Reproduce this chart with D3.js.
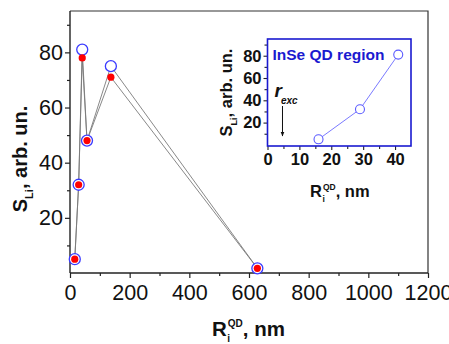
<!DOCTYPE html>
<html>
<head>
<meta charset="utf-8">
<script src="https://cdn.jsdelivr.net/npm/d3@7/dist/d3.min.js"></script>
<style>
  html, body { margin: 0; padding: 0; background: #fff; }
  svg { display: block; font-family: "Liberation Sans", Arial, sans-serif; }
</style>
</head>
<body>
<svg id="chart" width="449" height="344"></svg>
<script>
// QD radius (nm) and Li-related intensity for both series
const radius = [16, 29, 41, 57, 137, 628];
const sOpen = [5, 32, 81, 48, 75, 1.7];
const sFilled = [5, 32, 78, 48, 71, 1.7];

// Small-QD region shown in the inset
const insetRadius = [16, 29, 41];
const insetS = [5, 32, 81];
const excitonRadius = 4.7;

const xTicks = [0, 200, 400, 600, 800, 1000, 1200];
const yTicks = [20, 40, 60, 80];
const insetXTicks = [0, 10, 20, 30, 40];
const insetYTicks = [20, 40, 60, 80];

const svg = d3.select("#chart");
const fmt = d3.format("d");
const narrow = "'Liberation Sans Narrow', 'Arial Narrow', 'Liberation Sans', sans-serif";

// ---------- main panel ----------
const M = { left: 70, right: 428, top: 11, bottom: 273 };
const x = d3.scaleLinear().domain([0, 1200]).range([M.left, M.right]);
const y = d3.scaleLinear().domain([0, 95]).range([M.bottom, M.top]);

// frame (top and right)
svg.append("path")
  .attr("d", `M${M.left},${M.top}H${M.right}V${M.bottom}`)
  .attr("fill", "none").attr("stroke", "#333").attr("stroke-width", 1.2);

// minor ticks
const minorX = d3.range(100, 1200, 200);
const minorY = d3.range(10, 95, 20);
svg.append("g").attr("transform", `translate(0,${M.bottom})`)
  .call(d3.axisBottom(x).tickValues(minorX).tickSize(3).tickFormat(""))
  .call(g => g.select(".domain").remove())
  .selectAll("line").attr("stroke", "#222").attr("stroke-width", 1.2);
svg.append("g").attr("transform", `translate(${M.left},0)`)
  .call(d3.axisLeft(y).tickValues(minorY).tickSize(3).tickFormat(""))
  .call(g => g.select(".domain").remove())
  .selectAll("line").attr("stroke", "#222").attr("stroke-width", 1.2);

// main axes
const xAxis = svg.append("g").attr("transform", `translate(0,${M.bottom})`)
  .call(d3.axisBottom(x).tickValues(xTicks).tickFormat(fmt).tickSize(5).tickSizeOuter(0).tickPadding(7));
const yAxis = svg.append("g").attr("transform", `translate(${M.left},0)`)
  .call(d3.axisLeft(y).tickValues(yTicks).tickFormat(fmt).tickSize(5).tickSizeOuter(0).tickPadding(2));
[xAxis, yAxis].forEach(g => {
  g.select(".domain").attr("stroke", "#222").attr("stroke-width", 1.4);
  g.selectAll(".tick line").attr("stroke", "#222").attr("stroke-width", 1.2);
  g.selectAll(".tick text").attr("font-size", 21.5).attr("fill", "#111")
    .attr("font-family", narrow);
});
xAxis.select(".domain").attr("d", `M${M.left},0H${M.right}`);
yAxis.select(".domain").attr("d", `M0,${M.bottom}V${M.top}`);

// connecting lines
const line = d3.line().x((d, i) => x(radius[i])).y(d => y(d));
[sOpen, sFilled].forEach(s => {
  svg.append("path").datum(s).attr("d", line)
    .attr("fill", "none").attr("stroke", "#7a7a7a").attr("stroke-width", 0.9);
});

// markers
svg.append("g").selectAll("circle").data(sOpen).join("circle")
  .attr("cx", (d, i) => x(radius[i])).attr("cy", d => y(d)).attr("r", 5.5)
  .attr("fill", "#fff").attr("stroke", "#3a3aff").attr("stroke-width", 1.3);
svg.append("g").selectAll("circle").data(sFilled).join("circle")
  .attr("cx", (d, i) => x(radius[i])).attr("cy", d => y(d)).attr("r", 3.6)
  .attr("fill", "#ff0000");

// axis titles
function radiusLabel(g, big, small, fill) {
  const t1 = g.append("text").attr("font-size", big).attr("font-weight", "bold").attr("fill", fill).text("R");
  const w = t1.node().getComputedTextLength();
  g.append("text").attr("x", w + 0.5).attr("y", big * 0.28).attr("font-size", small)
    .attr("font-weight", "bold").attr("fill", fill).text("i");
  const t3 = g.append("text").attr("x", w + 1).attr("y", -big * 0.42).attr("font-size", small)
    .attr("font-weight", "bold").attr("fill", fill).text("QD");
  const w3 = t3.node().getComputedTextLength();
  g.append("text").attr("x", w + 1 + w3).attr("font-size", big).attr("font-weight", "bold")
    .attr("fill", fill).text(", nm");
}
radiusLabel(svg.append("g").attr("transform", "translate(212,336)"), 20.5, 10, "#111");

function sLabel(g, big, small, fill) {
  const t = g.append("text").attr("text-anchor", "middle").attr("font-weight", "bold")
    .attr("fill", fill).attr("font-size", big);
  t.append("tspan").text("S");
  t.append("tspan").attr("font-size", small).attr("dy", big * 0.28).text("Li");
  t.append("tspan").attr("dy", -big * 0.28).text(", arb. un.");
}
sLabel(svg.append("g").attr("transform", "translate(27,159) rotate(-90)"), 20, 11, "#111");

// ---------- inset ----------
const I = { left: 267.5, right: 411, top: 39, bottom: 146 };
const ix = d3.scaleLinear().domain([0, 45]).range([I.left, I.right]);
const iy = d3.scaleLinear().domain([-1, 95]).range([I.bottom, I.top]);
const blue = "#1a1ad0";

svg.append("g").attr("transform", `translate(0,${I.bottom})`)
  .call(d3.axisBottom(ix).tickValues(d3.range(5, 45, 10)).tickSize(3).tickFormat(""))
  .call(g => g.select(".domain").remove())
  .selectAll("line").attr("stroke", "#222").attr("stroke-width", 1.1);
svg.append("g").attr("transform", `translate(${I.left},0)`)
  .call(d3.axisLeft(iy).tickValues(d3.range(10, 95, 20)).tickSize(3).tickFormat(""))
  .call(g => g.select(".domain").remove())
  .selectAll("line").attr("stroke", "#222").attr("stroke-width", 1.1);

const ixAxis = svg.append("g").attr("transform", `translate(0,${I.bottom})`)
  .call(d3.axisBottom(ix).tickValues(insetXTicks).tickFormat(fmt).tickSize(4).tickSizeOuter(0).tickPadding(3));
const iyAxis = svg.append("g").attr("transform", `translate(${I.left},0)`)
  .call(d3.axisLeft(iy).tickValues(insetYTicks).tickFormat(fmt).tickSize(4).tickSizeOuter(0).tickPadding(2));
[ixAxis, iyAxis].forEach(g => {
  g.select(".domain").remove();
  g.selectAll(".tick line").attr("stroke", "#222").attr("stroke-width", 1.1);
  g.selectAll(".tick text").attr("font-size", 16.5).attr("font-weight", "bold").attr("fill", "#111")
    .attr("font-family", "Liberation Sans, Arial, sans-serif");
});

svg.append("rect")
  .attr("x", I.left).attr("y", I.top)
  .attr("width", I.right - I.left).attr("height", I.bottom - I.top)
  .attr("fill", "none").attr("stroke", blue).attr("stroke-width", 1.6);

svg.append("text").attr("x", I.left + 5).attr("y", 59.5)
  .attr("font-size", 15.5).attr("font-weight", "bold").attr("fill", blue)
  .text("InSe QD region");

// exciton radius marker
const exc = svg.append("text").attr("x", ix(excitonRadius) - 8).attr("y", 97)
  .attr("font-weight", "bold").attr("font-style", "italic").attr("fill", "#111");
exc.append("tspan").attr("font-size", 19).text("r");
exc.append("tspan").attr("font-size", 10).attr("dy", 7).attr("dx", -1).text("exc");

svg.append("defs").append("marker")
  .attr("id", "arrowhead").attr("viewBox", "0 0 10 10").attr("refX", 9).attr("refY", 5)
  .attr("markerWidth", 5).attr("markerHeight", 7).attr("orient", "auto")
  .append("path").attr("d", "M0,1L10,5L0,9z").attr("fill", "#111");
svg.append("line")
  .attr("x1", ix(excitonRadius)).attr("x2", ix(excitonRadius))
  .attr("y1", 106).attr("y2", 136)
  .attr("stroke", "#111").attr("stroke-width", 1)
  .attr("marker-end", "url(#arrowhead)");

const iline = d3.line().x((d, i) => ix(insetRadius[i])).y(d => iy(d));
svg.append("path").datum(insetS).attr("d", iline)
  .attr("fill", "none").attr("stroke", "#6a6aff").attr("stroke-width", 0.9);
svg.append("g").selectAll("circle").data(insetS).join("circle")
  .attr("cx", (d, i) => ix(insetRadius[i])).attr("cy", d => iy(d)).attr("r", 4.5)
  .attr("fill", "#fff").attr("stroke", "#5a5aff").attr("stroke-width", 1.1);

sLabel(svg.append("g").attr("transform", "translate(232,92.5) rotate(-90)"), 16.5, 9, "#111");
radiusLabel(svg.append("g").attr("transform", "translate(310,197)"), 16.5, 8.5, "#111");
</script>
</body>
</html>
